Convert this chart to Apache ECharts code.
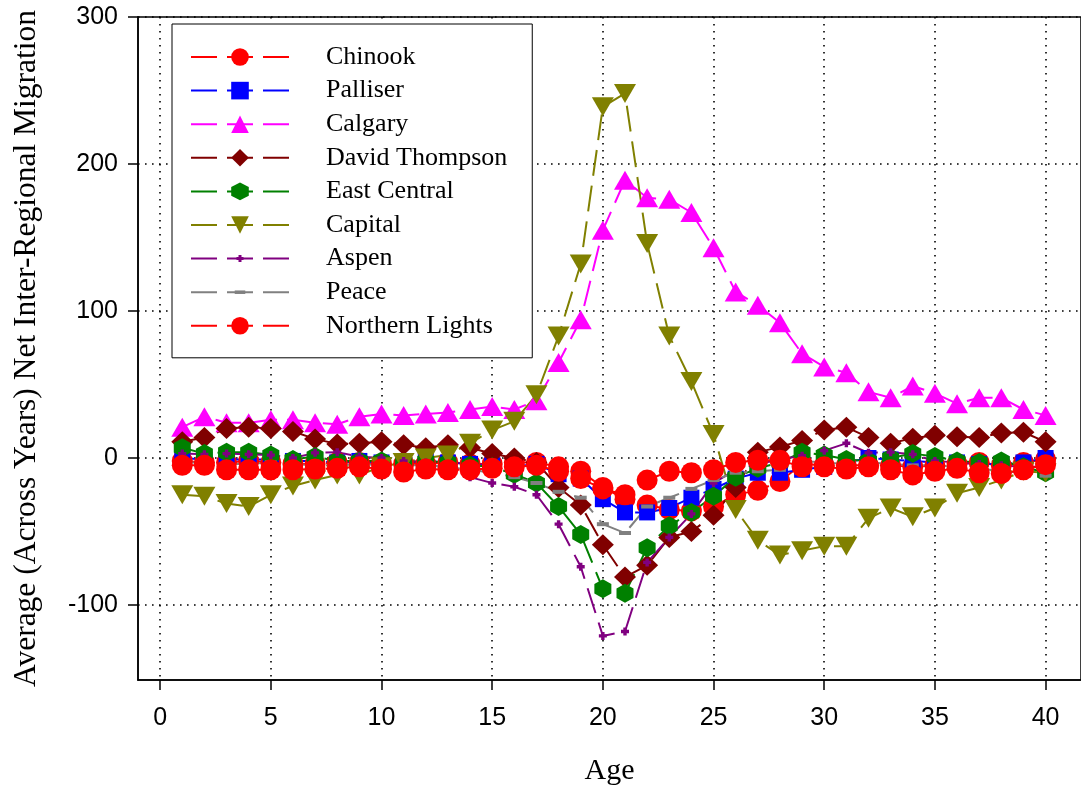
<!DOCTYPE html>
<html>
<head>
<meta charset="utf-8">
<script src="https://cdn.jsdelivr.net/npm/echarts@6/dist/echarts.min.js"></script>
<style>
  html, body { margin: 0; padding: 0; background: #fff; }
  #chart { width: 1081px; height: 791px; }
</style>
</head>
<body>
<div id="chart"></div>
<script>
// Age of migrants (x values)
const ages = [1, 2, 3, 4, 5, 6, 7, 8, 9, 10, 11, 12, 13, 14, 15, 16, 17, 18, 19, 20,
              21, 22, 23, 24, 25, 26, 27, 28, 29, 30, 31, 32, 33, 34, 35, 36, 37, 38, 39, 40];

// Average net inter-regional migration by region, ages 1..40
const chinook        = [-2, -3, -3, -2, -3, -4, -4, -3, -3, -4, -4, -4, -3, -4, -4, -3, -3, -6, -9, -20,
                        -28, -32, -35, -36, -33, -25, -22, -16, -4, -5, -5, -5, -5, -6, -5, -4, -3, -5, -3, -1];
const palliser       = [0, -1, -1, -1, -1, -2, -2, -3, -2, -3, -3, -2, -3, -4, -5, -6, -4, -11, -14, -28,
                        -37, -37, -34, -27, -21, -14, -10, -10, -8, -6, -3, 0, -1, -2, -3, -3, -4, -4, -3, 0];
const calgary        = [21, 28, 24, 24, 26, 26, 24, 23, 28, 30, 29, 30, 31, 33, 35, 33, 39, 65, 94, 155,
                        189, 177, 176, 167, 143, 113, 104, 92, 71, 62, 58, 45, 41, 49, 44, 37, 41, 41, 33, 29];
const davidThompson  = [11, 14, 20, 21, 20, 18, 13, 9.5, 10, 11, 9, 7, 9, 7, 3, 0, -3, -20, -32, -59,
                        -81, -73, -54, -50, -39, -20, 4, 7.5, 12, 19, 21, 14, 10, 13.5, 15.5, 14.5, 14, 17, 17.5, 11];
const eastCentral    = [7, 3, 4, 4, 2, -1, 1, -2, -2, -2, -3, -2, -3, -5, -6, -11, -17, -33, -52, -89,
                        -92, -61, -46, -37, -26, -13, -7, -3, 4, 2, -1, -2, 0, 3, 1, -2, -3, -2, -6, -10];
const capital        = [-25, -26, -31, -33, -25, -19, -15, -11.5, -11.5, -6, -3, 0, 2, 10, 19, 25, 43, 83, 132, 239,
                        248, 146, 83, 52, 16, -35, -56, -66, -63, -60, -60, -41, -34, -40, -34, -24, -20, -15, -9, -10];
const aspen          = [3, 2.5, 3, 2.5, 2, 0, 3.5, 4, 1, 0, -2, -3, -8, -13, -17, -19.5, -25, -45, -74, -121,
                        -118, -71, -54, -38, -17, -8, -4, -1, 1.5, 5, 10, 3.5, 4, 2.5, -2, -3, -4, -5, -6, -6];
const peace          = [-3, -3, -4, -4, -3, -4, -5, -5, -4, -5, -5, -5, -6, -8, -10, -13, -17, -23, -27, -45,
                        -51, -33, -27, -21, -15, -10, -9, -8, -2, -3, -4, -3, -4, -5, -5, -6, -7, -9, -10, -12];
const northernLights = [-5, -5, -8, -8, -8, -8, -7.5, -7, -6, -7.5, -9.5, -7.5, -8, -8, -7, -6, -5, -9, -14, -21,
                        -25, -15, -9, -10, -8, -3, -1.5, -1.5, -6, -6, -7.5, -6, -8, -11.5, -9, -7, -10, -10.5, -8, -4.5];

// Tick positions shown on the axes
const xTicks = [0, 5, 10, 15, 20, 25, 30, 35, 40];
const yTicks = [-100, 0, 100, 200, 300];

// Marker shapes
const HEXAGON = 'path://M10,0 L18.66,5 L18.66,15 L10,20 L1.34,15 L1.34,5 Z';
const SMALL_PLUS = 'path://M0,0 M20,20 M8.3,6 L11.7,6 L11.7,8.3 L14,8.3 L14,11.7 L11.7,11.7 L11.7,14 L8.3,14 L8.3,11.7 L6,11.7 L6,8.3 L8.3,8.3 Z';
const SMALL_BAR = 'path://M0,0 M20,20 M4,8 L16,8 L16,12 L4,12 Z';

const regions = [
  { name: 'Chinook',          values: chinook,        color: '#ff0000', symbol: 'circle',   size: 21 },
  { name: 'Palliser',         values: palliser,       color: '#0000ff', symbol: 'rect',     size: 16 },
  { name: 'Calgary',          values: calgary,        color: '#ff00ff', symbol: 'triangle', size: [22, 19] },
  { name: 'David Thompson',   values: davidThompson,  color: '#800000', symbol: 'diamond',  size: [22, 21] },
  { name: 'East Central',     values: eastCentral,    color: '#008000', symbol: HEXAGON,    size: [17, 19] },
  { name: 'Capital',          values: capital,        color: '#808000', symbol: 'triangle', size: [22, 19], rotate: 180 },
  { name: 'Aspen',            values: aspen,          color: '#800080', symbol: SMALL_PLUS, size: 20 },
  { name: 'Peace',            values: peace,          color: '#808080', symbol: SMALL_BAR,  size: 20 },
  { name: 'Northern Lights',  values: northernLights, color: '#ff0000', symbol: 'circle',   size: 21 }
];

const series = regions.map(r => ({
  name: r.name,
  type: 'line',
  data: ages.map((a, i) => [a, r.values[i]]),
  symbol: r.symbol,
  symbolSize: r.size,
  symbolRotate: r.rotate || 0,
  showAllSymbol: true,
  lineStyle: { color: r.color, width: 2, type: [26, 10] },
  itemStyle: { color: r.color, borderWidth: 0 },
  emphasis: { disabled: true },
  animation: false
}));

const sansFont = 'Liberation Sans, Arial, sans-serif';
const serifFont = 'Liberation Serif, Times New Roman, serif';
const dotted = { color: '#000', width: 1.6, type: [1.6, 5.4] };

const chart = echarts.init(document.getElementById('chart'), null, { renderer: 'canvas' });
chart.setOption({
  backgroundColor: '#fff',
  animation: false,
  grid: {
    left: 138, top: 17, right: 0, bottom: 110,
    show: true, borderColor: '#000', borderWidth: 1.5, backgroundColor: 'transparent'
  },
  legend: {
    left: 172, top: 24,
    orient: 'vertical',
    selectedMode: false,
    backgroundColor: '#fff',
    borderColor: '#000',
    borderWidth: 1,
    padding: [20, 25, 19, 18],
    itemWidth: 98,
    itemHeight: 22,
    itemGap: 7.6,
    textStyle: { fontFamily: serifFont, fontSize: 26, color: '#000', padding: [0, 0, 0, 32] }
  },
  xAxis: {
    type: 'value',
    min: -1, max: 41.6,
    name: 'Age',
    nameLocation: 'middle',
    nameGap: 76,
    nameTextStyle: { fontFamily: serifFont, fontSize: 30, color: '#000' },
    axisLine: { onZero: false, lineStyle: { color: '#000', width: 1.5 } },
    axisTick: { show: true, inside: false, length: 10, customValues: xTicks, lineStyle: { color: '#000', width: 1.5 } },
    axisLabel: { customValues: xTicks, margin: 26, fontFamily: sansFont, fontSize: 25, color: '#000' },
    splitLine: { show: true, lineStyle: dotted }
  },
  yAxis: {
    type: 'value',
    min: -151, max: 300,
    name: 'Average (Across Years) Net Inter-Regional Migration',
    nameLocation: 'middle',
    nameGap: 95,
    nameTextStyle: { fontFamily: serifFont, fontSize: 31.5, color: '#000' },
    axisLine: { show: true, onZero: false, lineStyle: { color: '#000', width: 1.5 } },
    axisTick: { show: true, inside: false, length: 10, customValues: yTicks, lineStyle: { color: '#000', width: 1.5 } },
    axisLabel: { customValues: yTicks, margin: 20, fontFamily: sansFont, fontSize: 25, color: '#000' },
    splitLine: { show: true, lineStyle: dotted }
  },
  series: series
});
</script>
</body>
</html>
